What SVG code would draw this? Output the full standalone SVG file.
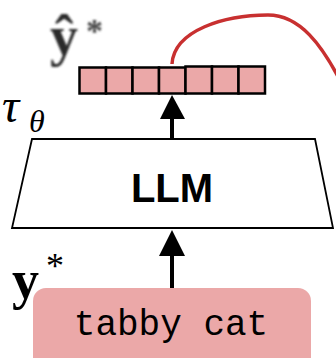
<svg xmlns="http://www.w3.org/2000/svg" width="336" height="358" viewBox="0 0 336 358">
<style>
.tok{fill:#eba8a8;stroke:#000;stroke-width:2.5}
.math{font-family:"Liberation Serif","DejaVu Serif",serif}
.conn{stroke:#000;stroke-width:4;fill:none}
</style>
<defs>
<filter id="blur" x="-20%" y="-20%" width="140%" height="140%"><feGaussianBlur stdDeviation="1"/></filter>
</defs>
<rect width="336" height="358" fill="#fff"/>
<g id="connectors">
<path d="M172,64 C174,30 225,15 268,15 C300,15 322,45 342,84" stroke="#c83030" stroke-width="3.5" fill="none"/>
<line class="conn" x1="172" y1="139" x2="172" y2="117"/>
<path d="M160,119 L172,95 L185,119 Z" fill="#000"/>
<line class="conn" x1="172" y1="288" x2="172" y2="254"/>
<path d="M159,256 L172,230 L185,256 Z" fill="#000"/>
</g>
<g id="output-tokens">
<rect class="tok" x="79.5" y="67.5" width="26.5" height="26"/>
<rect class="tok" x="106" y="67.5" width="26.5" height="26"/>
<rect class="tok" x="132.5" y="67.5" width="26.5" height="26"/>
<rect class="tok" x="159" y="67.5" width="26.5" height="26"/>
<rect class="tok" x="185.5" y="66.5" width="26.5" height="27"/>
<rect class="tok" x="212" y="66.5" width="26.5" height="27"/>
<rect class="tok" x="238.5" y="66.5" width="26.5" height="27"/>
</g>
<g id="yhat-label" filter="url(#blur)">
<text class="math" x="50" y="55" font-size="56" font-weight="bold" fill="#2a2a2a">ŷ</text>
<text class="math" x="86" y="42" font-size="34" font-weight="bold" fill="#444">*</text>
</g>
<g id="tau-label">
<text class="math" x="2" y="122" font-size="48" font-style="italic">τ</text>
<text class="math" x="29" y="132" font-size="32" font-style="italic">θ</text>
</g>
<g id="llm">
<polygon points="32,139 315,139 333,228 12,228" fill="#fff" stroke="#000" stroke-width="1.8"/>
<text x="172" y="202" font-family="Liberation Sans, Arial, sans-serif" font-weight="bold" font-size="40" text-anchor="middle">LLM</text>
</g>
<g id="ystar-label">
<text class="math" x="12" y="298" font-size="54" font-weight="bold">y</text>
<text class="math" x="46" y="278" font-size="36">*</text>
</g>
<g id="input">
<rect x="33" y="288" width="278" height="90" rx="13" fill="#eba8a8"/>
<text x="171" y="335" font-family="Liberation Mono, Courier New, monospace" font-size="36" text-anchor="middle">tabby cat</text>
</g>
</svg>
